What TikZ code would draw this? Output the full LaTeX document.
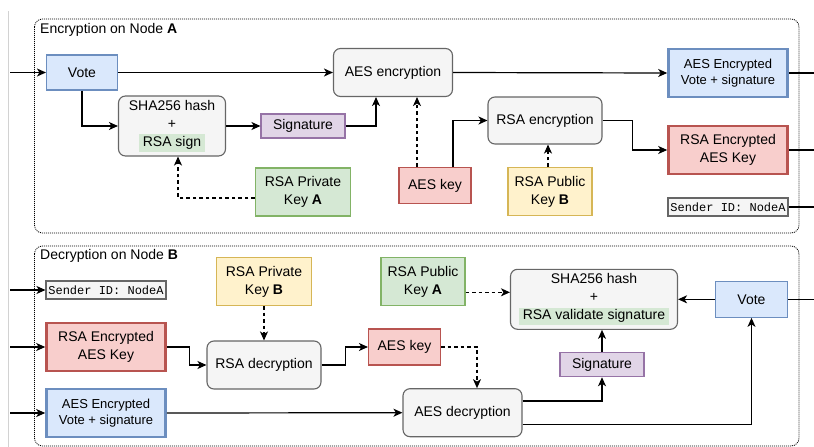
\documentclass[tikz,border=0pt]{standalone}
\usepackage{fontspec}
\setmainfont{Liberation Sans}
\setmonofont{Liberation Mono}
\usepackage{xcolor}
\usetikzlibrary{arrows.meta}

\definecolor{procfill}{HTML}{F5F5F5}
\definecolor{procline}{HTML}{666666}
\definecolor{bluefill}{HTML}{DAE8FC}
\definecolor{blueline}{HTML}{6C8EBF}
\definecolor{redfill}{HTML}{F8CECC}
\definecolor{redline}{HTML}{B85450}
\definecolor{greenfill}{HTML}{D5E8D4}
\definecolor{greenline}{HTML}{82B366}
\definecolor{yellowfill}{HTML}{FFF2CC}
\definecolor{yellowline}{HTML}{D6B656}
\definecolor{purplefill}{HTML}{E1D5E7}
\definecolor{purpleline}{HTML}{9673A6}

\newcommand{\hlgreen}[1]{{\setlength{\fboxsep}{2pt}\colorbox{greenfill}{\hspace{2pt}#1\hspace{2pt}}}}

\begin{document}
\begin{tikzpicture}[x=1pt,y=-1pt,
  every node/.style={font=\fontsize{14}{18}\selectfont, align=center, inner sep=0pt, text=black},
  sz/.style 2 args={minimum width=#1, minimum height=#2},
  proc/.style={draw=procline, fill=procfill, line width=1.1pt, rounded corners=7pt},
  vote/.style={draw=blueline, fill=bluefill, line width=1.1pt},
  voteout/.style={draw=blueline, fill=bluefill, line width=2.6pt, font=\fontsize{13}{16.7}\selectfont},
  keyout/.style={draw=redline, fill=redfill, line width=2.6pt},
  aeskeybox/.style={draw=redline, fill=redfill, line width=1.1pt},
  privbox/.style={draw=greenline, fill=greenfill, line width=1.1pt},
  pubbox/.style={draw=yellowline, fill=yellowfill, line width=1.1pt},
  sigbox/.style={draw=purpleline, fill=purplefill, line width=1.1pt},
  idbox/.style={draw=procline, fill=procfill, line width=1.1pt, font=\fontsize{12}{14}\ttfamily},
  arr/.style={line width=1.2pt, -{Stealth[length=9pt,width=8pt,inset=2.5pt]}},
  dsh/.style={arr, dash pattern=on 3.5pt off 3pt},
  grp/.style={line width=0.8pt, dash pattern=on 1pt off 1pt, rounded corners=8pt}
]
\useasboundingbox (0,0) rectangle (814,447);
\draw[gray!35, line width=1pt] (8.5,11) -- (8.5,447);

\draw[grp] (34.5,19) rectangle (799,233);
\draw[grp] (34.5,246) rectangle (799,446);
\node[anchor=west] (encT) at (40,30) {Encryption on Node \textbf{A}};
\node[anchor=west] (decT) at (40,256) {Decryption on Node \textbf{B}};

% encryption on A
\node[vote, sz={71pt}{35pt}] (vote) at (82,72.5) {Vote};
\node[proc, sz={119pt}{48pt}] (aesenc) at (393,72.5) {AES encryption};
\node[voteout, sz={119pt}{48pt}] (aesout) at (728,73) {AES Encrypted\\Vote + signature};
\node[proc, sz={107pt}{60pt}] (sha) at (172,126) {SHA256 hash\\+\\\hlgreen{RSA sign}};
\node[sigbox, sz={84pt}{24pt}] (sig) at (303,126) {Signature};
\node[proc, sz={114pt}{47pt}] (rsaenc) at (545,120.5) {RSA encryption};
\node[keyout, sz={119pt}{48pt}] (rsaout) at (728,150) {RSA Encrypted\\AES Key};
\node[privbox, sz={95pt}{48pt}] (privA) at (303,192) {RSA Private\\Key \textbf{A}};
\node[aeskeybox, sz={72pt}{36pt}] (aeskey) at (435,185.5) {AES key};
\node[pubbox, sz={84pt}{48pt}] (pubB) at (550,191.5) {RSA Public\\Key \textbf{B}};
\node[idbox, sz={120pt}{18pt}] (idA) at (728,207) {Sender ID: NodeA};

\coordinate (inA) at (10,72.5);
\coordinate (outA1) at (826,73);
\coordinate (outA2) at (826,150);
\coordinate (outA3) at (826,207);

\draw[arr] (inA) -- (vote.west);
\draw[arr] (vote.east) -- (aesenc.west);
\draw[arr] (vote.south) |- (sha.west);
\draw[arr] (sha.east) -- (sig.west);
\draw[arr] (sig.east) -| ([xshift=-17pt]aesenc.south);
\draw[dsh] ([xshift=-18pt]aeskey.north) -- ([xshift=-18pt]aeskey.north |- aesenc.south);
\draw[arr] ([xshift=18pt]aeskey.north) |- (rsaenc.west);
\draw[dsh] ([xshift=-2pt]pubB.north) -- ([xshift=-2pt]pubB.north |- rsaenc.south);
\draw[dsh] ([yshift=-6pt]privA.west) -| ([xshift=6pt]sha.south);
\draw[arr] (rsaenc.east) -- ++(30,0) |- (rsaout.west);
\draw[arr] (aesenc.east) -- (aesout.west);
\draw[arr] (aesout.east) -- (outA1);
\draw[arr] (rsaout.east) -- (outA2);
\draw[arr] (idA.east) -- (outA3);

% decryption on B
\node[idbox, sz={120pt}{18pt}] (idB) at (106,290) {Sender ID: NodeA};
\node[keyout, sz={119pt}{48pt}] (keyin) at (106,347) {RSA Encrypted\\AES Key};
\node[voteout, sz={119pt}{48pt}] (votein) at (106,413) {AES Encrypted\\Vote + signature};
\node[pubbox, sz={95pt}{48pt}] (privB) at (264,281.5) {RSA Private\\Key \textbf{B}};
\node[proc, sz={114pt}{48pt}] (rsadec) at (264,365) {RSA decryption};
\node[aeskeybox, sz={72pt}{36pt}] (aeskeyB) at (404.5,347) {AES key};
\node[privbox, sz={84pt}{48pt}] (pubA) at (423,281.5) {RSA Public\\Key \textbf{A}};
\node[proc, sz={167pt}{60pt}] (shaB) at (594,299.3) {SHA256 hash\\+\\\hlgreen{RSA validate signature}};
\node[vote, sz={72pt}{36pt}] (voteB) at (751.5,299.3) {Vote};
\node[sigbox, sz={84pt}{24pt}] (sigB) at (602,364.7) {Signature};
\node[proc, sz={119pt}{48pt}] (aesdec) at (462.5,412.7) {AES decryption};

\coordinate (inB1) at (10,290);
\coordinate (inB2) at (10,347);
\coordinate (inB3) at (10,413);
\coordinate (outB) at (826,299.3);

\draw[arr] (inB1) -- (idB.west);
\draw[arr] (inB2) -- (keyin.west);
\draw[arr] (inB3) -- (votein.west);
\draw[arr] (keyin.east) -- ++(23,0) |- (rsadec.west);
\draw[dsh] (privB.south) -- (rsadec.north);
\draw[arr] (rsadec.east) -- ++(24,0) |- (aeskeyB.west);
\draw[dsh] (aeskeyB.east) -| ([xshift=14.5pt]aesdec.north);
\draw[arr] (votein.east) -- (aesdec.west);
\draw[arr] ([yshift=11.7pt]aesdec.east) -| (sigB.south);
\draw[arr] ([yshift=-11.7pt]aesdec.east) -| (voteB.south);
\draw[arr] (sigB.north) -- (sigB.north |- shaB.south);
\draw[arr] (voteB.west) -- (shaB.east);
\draw[dsh] ([yshift=-10.8pt]pubA.east) -- ([yshift=-10.8pt]pubA.east -| shaB.west);
\draw[arr] (voteB.east) -- (outB);
\end{tikzpicture}
\end{document}
